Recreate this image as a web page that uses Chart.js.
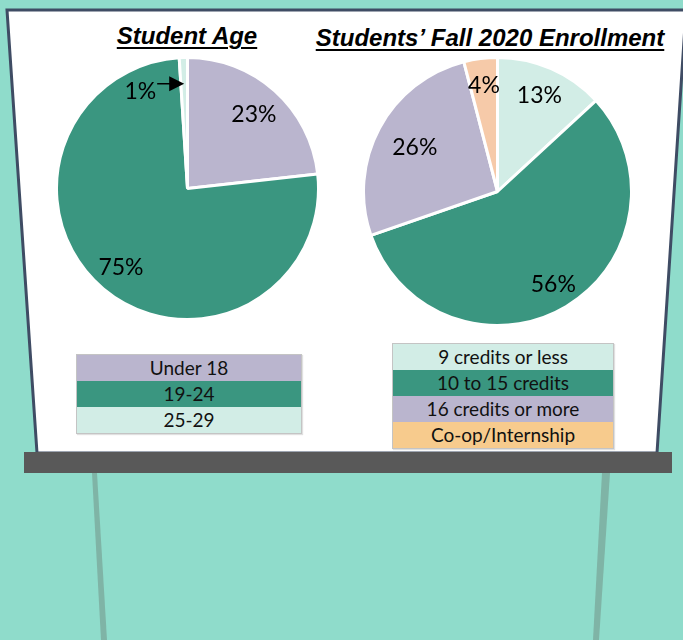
<!DOCTYPE html>
<html><head><meta charset="utf-8">
<script src="https://cdn.jsdelivr.net/npm/chart.js@4/dist/chart.umd.min.js"></script>
<style>
html,body{margin:0;padding:0;}
body{width:683px;height:640px;background:#8fdccb;position:relative;overflow:hidden;font-family:Lato,"Open Sans",sans-serif;}
#easel{position:absolute;left:0;top:0;}
.title{position:absolute;font-family:"Liberation Sans",Arial,sans-serif;font-weight:bold;font-style:italic;font-size:24px;line-height:24px;text-align:center;color:#000;text-decoration:underline;text-decoration-thickness:2px;text-underline-offset:3px;white-space:nowrap;}
canvas{position:absolute;}
.legend{position:absolute;border:1px solid #c4c4c4;box-shadow:1px 1px 1px rgba(0,0,0,0.12);}
.legend div{height:26px;line-height:26px;text-align:center;font-size:19px;color:#111;}
</style>
</head><body>
<svg id="easel" width="683" height="640">
  <polygon points="97,473 92,473 101,640 107,640" fill="#7fb4a6"/>
  <polygon points="602,473 610,473 599,640 593,640" fill="#7fb4a6"/>
  <polygon points="7,10 686,10 657,453 37,453" fill="#ffffff" stroke="#3f4c64" stroke-width="3"/>
  <rect x="24" y="452" width="648" height="21" fill="#595959"/>
</svg>
<div class="title" id="t1" style="left:87px;width:200px;top:24px;">Student Age</div>
<div class="title" id="t2" style="left:290px;width:400px;top:26px;">Students’ Fall 2020 Enrollment</div>
<canvas id="c1" width="265" height="265" style="left:55px;top:56px;"></canvas>
<canvas id="c2" width="271" height="271" style="left:362px;top:56px;"></canvas>
<div class="legend" id="l1" style="left:76px;top:354px;width:224px;"></div>
<div class="legend" id="l2" style="left:392px;top:343px;width:220px;"></div>
<script>
const ageLabels = ['Under 18', '19-24', '25-29'];
const ageValues = [23, 75, 1];
const enrollLabels = ['9 credits or less', '10 to 15 credits', '16 credits or more', 'Co-op/Internship'];
const enrollValues = [13, 56, 26, 4];

const ageColors = ['#bab5ce', '#3a9680', '#d2ede6'];
const enrollColors = ['#d2ede6', '#3a9680', '#bab5ce', '#f6caa9'];
const enrollLegendColors = ['#d2ede6', '#3a9680', '#bab5ce', '#f7cb8d'];

const pieLabels = {
  id: 'pieLabels',
  afterDatasetsDraw(chart, args, opts) {
    const ctx = chart.ctx;
    const meta = chart.getDatasetMeta(0);
    const data = chart.data.datasets[0].data;
    ctx.save();
    ctx.font = opts.font;
    ctx.fillStyle = '#000';
    ctx.strokeStyle = '#000';
    meta.data.forEach((arc, i) => {
      const p = arc.getProps(['x', 'y', 'startAngle', 'endAngle', 'outerRadius'], true);
      const mid = (p.startAngle + p.endAngle) / 2;
      const text = data[i] + '%';
      if (data[i] < 2) {
        const tx = p.x + Math.cos(mid) * p.outerRadius * 0.8;
        const ty = p.y + Math.sin(mid) * p.outerRadius * 0.8;
        const len = 27;
        ctx.lineWidth = 1.5;
        ctx.beginPath(); ctx.moveTo(tx - len, ty); ctx.lineTo(tx - 12, ty); ctx.stroke();
        ctx.beginPath(); ctx.moveTo(tx, ty); ctx.lineTo(tx - 15, ty - 7.5); ctx.lineTo(tx - 15, ty + 7.5); ctx.closePath(); ctx.fill();
        ctx.textAlign = 'right'; ctx.textBaseline = 'top';
        ctx.fillText(text, tx - len - 1, ty - 4);
      } else {
        const rf = (opts.radii && opts.radii[i]) || 0.78;
        ctx.textAlign = 'center'; ctx.textBaseline = 'middle';
        ctx.fillText(text, p.x + Math.cos(mid) * p.outerRadius * rf, p.y + Math.sin(mid) * p.outerRadius * rf);
      }
    });
    ctx.restore();
  }
};

function makePie(id, labels, values, colors, radii) {
  return new Chart(document.getElementById(id), {
    type: 'pie',
    data: { labels: labels, datasets: [{ data: values, backgroundColor: colors, borderColor: '#ffffff', borderWidth: 3 }] },
    options: {
      responsive: false, animation: false,
      layout: { padding: 0 },
      plugins: { legend: { display: false }, tooltip: { enabled: false },
        pieLabels: { font: '23px Lato, sans-serif', radii: radii } }
    },
    plugins: [pieLabels]
  });
}
makePie('c1', ageLabels, ageValues, ageColors, [0.76, 0.79, 0.8]);
makePie('c2', enrollLabels, enrollValues, enrollColors, [0.78, 0.81, 0.70, 0.80]);

function makeLegend(id, labels, colors) {
  const el = document.getElementById(id);
  labels.forEach((l, i) => {
    const d = document.createElement('div');
    d.textContent = l;
    d.style.background = colors[i];
    el.appendChild(d);
  });
}
makeLegend('l1', ageLabels, ageColors);
makeLegend('l2', enrollLabels, enrollLegendColors);
</script>
</body></html>
